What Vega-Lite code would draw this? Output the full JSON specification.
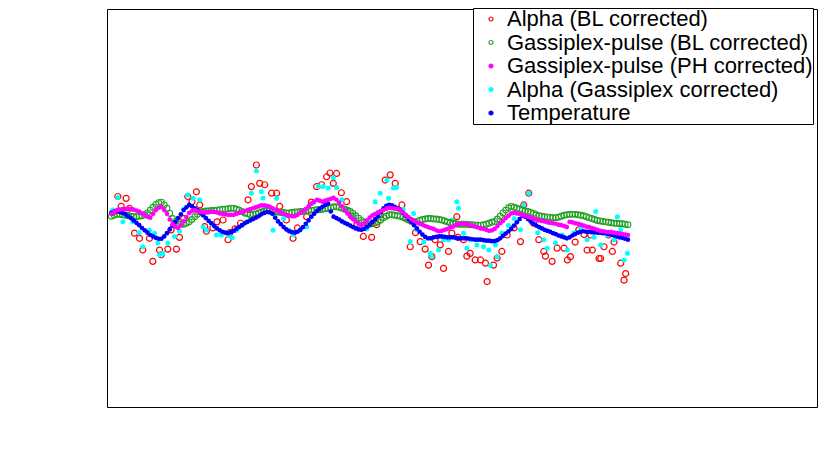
{
"$schema": "https://vega.github.io/schema/vega-lite/v6.json",
"width": 710, "height": 398,
"autosize": {"type": "none"},
"padding": {"left": 107, "top": 9, "right": 13, "bottom": 49},
"background": "white",
"datasets": {
"r": [{"t":0.5,"e":1000.3},{"t":2.3,"e":1003.7},{"t":3.5,"e":1001.6},{"t":5.3,"e":1003.3},{"t":6.5,"e":1001.2},{"t":8.3,"e":995.9},{"t":10.1,"e":994.8},{"t":11.3,"e":992.3},{"t":13.7,"e":994.8},{"t":14.9,"e":989.9},{"t":17.3,"e":992.3},{"t":17.9,"e":991.3},{"t":20.3,"e":992.5},{"t":21.5,"e":996.6},{"t":23.4,"e":992.5},{"t":24.5,"e":995},{"t":26,"e":999},{"t":27.5,"e":1003.7},{"t":29,"e":1002.6},{"t":30.6,"e":1004.7},{"t":31.8,"e":1001.9},{"t":33.6,"e":997.3},{"t":34.2,"e":996.3},{"t":36.5,"e":997},{"t":38,"e":998.3},{"t":40.2,"e":998.7},{"t":42,"e":994.5},{"t":42.6,"e":996},{"t":44.5,"e":996.8},{"t":46.5,"e":998},{"t":49.2,"e":1003},{"t":50.4,"e":1005.8},{"t":52.2,"e":1010.4},{"t":53.4,"e":1006.5},{"t":55.2,"e":1006.2},{"t":57.7,"e":1004.4},{"t":59.5,"e":1004.4},{"t":60.6,"e":1001.6},{"t":63,"e":998.7},{"t":65.4,"e":994.8},{"t":67,"e":997},{"t":70.3,"e":999.4},{"t":72,"e":1002.5},{"t":73.9,"e":1005.8},{"t":75.7,"e":1006.2},{"t":77.5,"e":1007.9},{"t":78.7,"e":1008.7},{"t":79.9,"e":1006.5},{"t":81.1,"e":1008.6},{"t":82.8,"e":1004.5},{"t":84.7,"e":1002.6},{"t":86.5,"e":999.5},{"t":88.4,"e":997.9},{"t":90.7,"e":995.2},{"t":93.7,"e":995},{"t":95.5,"e":997.7},{"t":96.8,"e":999.8},{"t":98.6,"e":1007.2},{"t":100.4,"e":1008.3},{"t":102.2,"e":1006.5},{"t":104.6,"e":1001.9},{"t":106,"e":999},{"t":107.6,"e":993},{"t":109.5,"e":996},{"t":111.2,"e":994.1},{"t":113,"e":992.5},{"t":114.2,"e":989.1},{"t":115.4,"e":990.9},{"t":116.6,"e":994.5},{"t":118.4,"e":993.4},{"t":119.6,"e":988.4},{"t":121.4,"e":992},{"t":122.6,"e":995.9},{"t":124.4,"e":999.4},{"t":124.8,"e":995},{"t":126.8,"e":994.5},{"t":128,"e":991},{"t":129.2,"e":991.6},{"t":131,"e":990.2},{"t":132.9,"e":990.2},{"t":134.7,"e":989.5},{"t":135.3,"e":985.6},{"t":137.6,"e":989.1},{"t":138.9,"e":990.6},{"t":140.6,"e":992},{"t":142.5,"e":995.5},{"t":145,"e":997},{"t":147.3,"e":994.1},{"t":148.5,"e":1001.9},{"t":150.3,"e":1004.4},{"t":152,"e":998},{"t":153.9,"e":994.5},{"t":155.7,"e":992},{"t":156.3,"e":991},{"t":158.7,"e":989.9},{"t":160.5,"e":992.7},{"t":163,"e":992.7},{"t":164.2,"e":990.2},{"t":165.3,"e":990.9},{"t":167,"e":994},{"t":168.3,"e":996.6},{"t":170.2,"e":995.6},{"t":171.3,"e":992.3},{"t":172.6,"e":995.5},{"t":173.2,"e":992.3},{"t":175.6,"e":990.5},{"t":176.2,"e":990.5},{"t":177.4,"e":993},{"t":179,"e":995.5},{"t":180.4,"e":992},{"t":181,"e":994},{"t":182.2,"e":995.5},{"t":183.4,"e":989.5},{"t":184.6,"e":985.9},{"t":185.2,"e":987.3}],
"c": [{"t":0.5,"e":1000.8},{"t":2.3,"e":1003.5},{"t":4.1,"e":998.3},{"t":6,"e":1000},{"t":7.7,"e":998.3},{"t":10,"e":996},{"t":11.3,"e":993},{"t":13.7,"e":996.5},{"t":15.5,"e":995.9},{"t":16.7,"e":993.8},{"t":17.3,"e":991.3},{"t":18.5,"e":991.6},{"t":20.3,"e":993.8},{"t":22.7,"e":995.2},{"t":24.5,"e":996.3},{"t":26,"e":1001},{"t":27.5,"e":1004},{"t":29.4,"e":1003.3},{"t":31.8,"e":1003},{"t":33,"e":997.2},{"t":34.2,"e":996.5},{"t":36,"e":998},{"t":37.8,"e":995.5},{"t":39.6,"e":995.5},{"t":42,"e":995.5},{"t":43.5,"e":994.9},{"t":45,"e":996.5},{"t":47,"e":997.5},{"t":48.6,"e":998.3},{"t":50.4,"e":1004.4},{"t":52.2,"e":1009.1},{"t":54,"e":1004.7},{"t":54.6,"e":1003.4},{"t":56.5,"e":1001.5},{"t":58.2,"e":996.5},{"t":59.5,"e":1003.3},{"t":62,"e":999},{"t":64,"e":996.5},{"t":65.5,"e":995.5},{"t":67.9,"e":996.5},{"t":70.3,"e":997.2},{"t":72.7,"e":1002.3},{"t":74.5,"e":1005.8},{"t":76.3,"e":1005.8},{"t":78.1,"e":1005.5},{"t":79.9,"e":1007.7},{"t":81.1,"e":1005.6},{"t":83,"e":1003},{"t":85,"e":1001},{"t":87.2,"e":999.4},{"t":89.5,"e":997.5},{"t":92,"e":996.8},{"t":95,"e":1002.6},{"t":96.8,"e":1004.4},{"t":99.2,"e":1007.2},{"t":99.8,"e":1003.3},{"t":101.5,"e":1005.5},{"t":102.7,"e":1005.6},{"t":105,"e":1001},{"t":107.6,"e":994.1},{"t":108.8,"e":1000.1},{"t":110,"e":996.6},{"t":112.5,"e":994},{"t":114.8,"e":991.6},{"t":115.4,"e":990.9},{"t":117.8,"e":992.3},{"t":119.6,"e":994.5},{"t":121.4,"e":994.5},{"t":122.6,"e":998.7},{"t":124.4,"e":1002.6},{"t":125,"e":1001.2},{"t":126.8,"e":995.9},{"t":128,"e":992.7},{"t":129.2,"e":994.5},{"t":131.6,"e":993.4},{"t":134,"e":993},{"t":135.9,"e":992.3},{"t":136.5,"e":989},{"t":138.3,"e":993.4},{"t":138.9,"e":990.9},{"t":140.6,"e":995.9},{"t":143,"e":997.5},{"t":145,"e":999},{"t":147.3,"e":996.6},{"t":148.5,"e":1001.9},{"t":150.3,"e":1004.4},{"t":152,"e":998.5},{"t":153.5,"e":996},{"t":155.7,"e":994.5},{"t":156.9,"e":992.7},{"t":159.9,"e":993.8},{"t":162.4,"e":995.5},{"t":164.2,"e":992.3},{"t":166.6,"e":996},{"t":169,"e":997},{"t":171.3,"e":994.5},{"t":173.8,"e":995},{"t":174.4,"e":1000.5},{"t":176.2,"e":993.4},{"t":178.5,"e":995.5},{"t":181,"e":994.5},{"t":182.2,"e":999.4},{"t":183.4,"e":996.6},{"t":184.6,"e":990.2},{"t":185.8,"e":991.6}],
"g": [{"t":0,"e":999.5},{"t":2,"e":999.9},{"t":4,"e":999.8},{"t":6,"e":999.6},{"t":8,"e":999.4},{"t":10,"e":999.5},{"t":12,"e":999.8},{"t":14,"e":1000.8},{"t":16,"e":1002},{"t":18,"e":1002.5},{"t":20,"e":1001.2},{"t":22,"e":999},{"t":24,"e":997.9},{"t":26,"e":997.8},{"t":28,"e":998.3},{"t":30,"e":999.4},{"t":32,"e":1000.4},{"t":34,"e":1000.6},{"t":36,"e":1000.7},{"t":38,"e":1000.8},{"t":40,"e":1001},{"t":42,"e":1001.1},{"t":44,"e":1001.2},{"t":46,"e":1000.8},{"t":48,"e":1000.2},{"t":50,"e":999.8},{"t":52,"e":1000},{"t":54,"e":1000.4},{"t":56,"e":1000.7},{"t":58,"e":1000.6},{"t":60,"e":1000.4},{"t":62,"e":1000.3},{"t":64,"e":1000.2},{"t":66,"e":1000.4},{"t":68,"e":1000.5},{"t":70,"e":1000.6},{"t":72,"e":1000.8},{"t":74,"e":1000.9},{"t":76,"e":1001},{"t":78,"e":1001.2},{"t":80,"e":1001.5},{"t":82,"e":1001.4},{"t":84,"e":1001},{"t":86,"e":1000.5},{"t":88,"e":999.6},{"t":90,"e":998.6},{"t":92,"e":997.9},{"t":94,"e":997.9},{"t":96,"e":998.3},{"t":98,"e":999.2},{"t":100,"e":999.8},{"t":102,"e":999.7},{"t":104,"e":999.5},{"t":106,"e":999},{"t":108,"e":998.4},{"t":110,"e":998.4},{"t":112,"e":998.8},{"t":114,"e":999},{"t":116,"e":998.9},{"t":118,"e":998.8},{"t":120,"e":998.5},{"t":122,"e":998.1},{"t":124,"e":997.9},{"t":126,"e":997.8},{"t":128,"e":997.8},{"t":130,"e":997.7},{"t":132,"e":997.6},{"t":134,"e":997.7},{"t":136,"e":998},{"t":138,"e":998.4},{"t":140,"e":999.5},{"t":142,"e":1000.8},{"t":144,"e":1001.6},{"t":146,"e":1001.2},{"t":148,"e":1000.8},{"t":150,"e":1000.5},{"t":152,"e":1000.1},{"t":154,"e":999.6},{"t":156,"e":999.4},{"t":158,"e":999.3},{"t":160,"e":999.2},{"t":162,"e":999.5},{"t":164,"e":999.8},{"t":166,"e":999.9},{"t":168,"e":999.8},{"t":170,"e":999.6},{"t":172,"e":999.2},{"t":174,"e":998.8},{"t":176,"e":998.5},{"t":178,"e":998.3},{"t":180,"e":998.1},{"t":182,"e":998},{"t":184,"e":997.9},{"t":186,"e":997.7},
{"t":1,"e":999.7},{"t":3,"e":999.9},{"t":5,"e":999.7},{"t":7,"e":999.5},{"t":9,"e":999.4},{"t":11,"e":999.6},{"t":13,"e":1000.2},{"t":15,"e":1001.4},{"t":17,"e":1002.4},{"t":19,"e":1001.9},{"t":21,"e":1000.1},{"t":23,"e":998.4},{"t":25,"e":997.8},{"t":27,"e":998},{"t":29,"e":998.8},{"t":31,"e":999.9},{"t":33,"e":1000.5},{"t":35,"e":1000.6},{"t":37,"e":1000.7},{"t":39,"e":1000.9},{"t":41,"e":1001},{"t":43,"e":1001.2},{"t":45,"e":1001},{"t":47,"e":1000.5},{"t":49,"e":1000},{"t":51,"e":999.9},{"t":53,"e":1000.2},{"t":55,"e":1000.6},{"t":57,"e":1000.7},{"t":59,"e":1000.5},{"t":61,"e":1000.3},{"t":63,"e":1000.2},{"t":65,"e":1000.3},{"t":67,"e":1000.4},{"t":69,"e":1000.5},{"t":71,"e":1000.7},{"t":73,"e":1000.8},{"t":75,"e":1000.9},{"t":77,"e":1001.1},{"t":79,"e":1001.3},{"t":81,"e":1001.5},{"t":83,"e":1001.2},{"t":85,"e":1000.8},{"t":87,"e":1000.1},{"t":89,"e":999.1},{"t":91,"e":998.2},{"t":93,"e":997.8},{"t":95,"e":998.1},{"t":97,"e":998.7},{"t":99,"e":999.5},{"t":101,"e":999.8},{"t":103,"e":999.6},{"t":105,"e":999.3},{"t":107,"e":998.7},{"t":109,"e":998.3},{"t":111,"e":998.6},{"t":113,"e":998.9},{"t":115,"e":999},{"t":117,"e":998.9},{"t":119,"e":998.7},{"t":121,"e":998.3},{"t":123,"e":998},{"t":125,"e":997.8},{"t":127,"e":997.8},{"t":129,"e":997.7},{"t":131,"e":997.6},{"t":133,"e":997.6},{"t":135,"e":997.8},{"t":137,"e":998.2},{"t":139,"e":998.9},{"t":141,"e":1000.2},{"t":143,"e":1001.3},{"t":145,"e":1001.4},{"t":147,"e":1001},{"t":149,"e":1000.6},{"t":151,"e":1000.3},{"t":153,"e":999.8},{"t":155,"e":999.5},{"t":157,"e":999.3},{"t":159,"e":999.2},{"t":161,"e":999.3},{"t":163,"e":999.7},{"t":165,"e":999.9},{"t":167,"e":999.9},{"t":169,"e":999.7},{"t":171,"e":999.4},{"t":173,"e":999},{"t":175,"e":998.6},{"t":177,"e":998.4},{"t":179,"e":998.2},{"t":181,"e":998},{"t":183,"e":997.9},{"t":185,"e":997.8}],
"b": [{"t":0,"e":1000.2},{"t":2,"e":1000.6},{"t":4,"e":1000.2},{"t":6,"e":999.5},{"t":8,"e":998.6},{"t":10,"e":997.6},{"t":12,"e":996.5},{"t":14,"e":995.5},{"t":16,"e":994.9},{"t":18,"e":994.7},{"t":20,"e":995.9},{"t":22,"e":997.5},{"t":24,"e":999.1},{"t":26,"e":1000.8},{"t":28,"e":1001.9},{"t":30,"e":1001.2},{"t":32,"e":1000.3},{"t":34,"e":999.1},{"t":36,"e":998},{"t":38,"e":996.9},{"t":40,"e":996.2},{"t":42,"e":995.9},{"t":44,"e":996.4},{"t":46,"e":997.2},{"t":48,"e":998},{"t":50,"e":998.6},{"t":52,"e":999.2},{"t":54,"e":999.9},{"t":56,"e":1000.4},{"t":58,"e":1000},{"t":60,"e":998.4},{"t":62,"e":997.2},{"t":64,"e":996.3},{"t":66,"e":996},{"t":68,"e":996.6},{"t":70,"e":997.9},{"t":72,"e":999.4},{"t":74,"e":1000.6},{"t":76,"e":1001.5},{"t":78,"e":1002.2},{"t":80,"e":999.4},{"t":82,"e":998.8},{"t":84,"e":998.1},{"t":86,"e":997.5},{"t":88,"e":996.9},{"t":90,"e":996.6},{"t":92,"e":997.2},{"t":94,"e":998.3},{"t":96,"e":999.5},{"t":98,"e":1001.2},{"t":100,"e":1001.9},{"t":102,"e":1001.5},{"t":104,"e":1000.8},{"t":106,"e":999.6},{"t":108,"e":998.3},{"t":110,"e":996.9},{"t":112,"e":995.6},{"t":114,"e":994.8},{"t":116,"e":995},{"t":118,"e":995.2},{"t":120,"e":995.1},{"t":122,"e":995},{"t":124,"e":994.9},{"t":126,"e":994.8},{"t":128,"e":994.8},{"t":130,"e":994.6},{"t":132,"e":994.5},{"t":134,"e":994.4},{"t":136,"e":994.3},{"t":138,"e":994.2},{"t":140,"e":994.8},{"t":142,"e":995.8},{"t":144,"e":996.8},{"t":146,"e":998.2},{"t":148,"e":999.6},{"t":150,"e":998.9},{"t":152,"e":997.9},{"t":154,"e":997.2},{"t":156,"e":996.6},{"t":158,"e":996.2},{"t":160,"e":995.7},{"t":162,"e":995.2},{"t":164,"e":994.8},{"t":166,"e":995.4},{"t":168,"e":996},{"t":170,"e":996.3},{"t":172,"e":996.2},{"t":174,"e":996.1},{"t":176,"e":996},{"t":178,"e":995.9},{"t":180,"e":995.6},{"t":182,"e":995.2},{"t":184,"e":994.9},{"t":186,"e":994.5},
{"t":1,"e":1000.5},{"t":3,"e":1000.4},{"t":5,"e":999.9},{"t":7,"e":999.1},{"t":9,"e":998.1},{"t":11,"e":997},{"t":13,"e":996},{"t":15,"e":995.2},{"t":17,"e":994.7},{"t":19,"e":995.2},{"t":21,"e":996.7},{"t":23,"e":998.3},{"t":25,"e":999.9},{"t":27,"e":1001.4},{"t":29,"e":1001.6},{"t":31,"e":1000.8},{"t":33,"e":999.7},{"t":35,"e":998.5},{"t":37,"e":997.4},{"t":39,"e":996.5},{"t":41,"e":996},{"t":43,"e":996.1},{"t":45,"e":996.8},{"t":47,"e":997.6},{"t":49,"e":998.3},{"t":51,"e":998.9},{"t":53,"e":999.5},{"t":55,"e":1000.2},{"t":57,"e":1000.3},{"t":59,"e":999.2},{"t":61,"e":997.8},{"t":63,"e":996.7},{"t":65,"e":996.1},{"t":67,"e":996.2},{"t":69,"e":997.2},{"t":71,"e":998.6},{"t":73,"e":1000},{"t":75,"e":1001.1},{"t":77,"e":1001.9},{"t":79,"e":1000.5},{"t":81,"e":999.1},{"t":83,"e":998.4},{"t":85,"e":997.8},{"t":87,"e":997.2},{"t":89,"e":996.7},{"t":91,"e":996.8},{"t":93,"e":997.7},{"t":95,"e":998.9},{"t":97,"e":1000.3},{"t":99,"e":1001.7},{"t":101,"e":1001.8},{"t":103,"e":1001.2},{"t":105,"e":1000.2},{"t":107,"e":998.9},{"t":109,"e":997.6},{"t":111,"e":996.2},{"t":113,"e":995.1},{"t":115,"e":994.8},{"t":117,"e":995.1},{"t":119,"e":995.2},{"t":121,"e":995},{"t":123,"e":995},{"t":125,"e":994.8},{"t":127,"e":994.8},{"t":129,"e":994.7},{"t":131,"e":994.5},{"t":133,"e":994.5},{"t":135,"e":994.3},{"t":137,"e":994.2},{"t":139,"e":994.4},{"t":141,"e":995.3},{"t":143,"e":996.3},{"t":145,"e":997.5},{"t":147,"e":998.9},{"t":149,"e":999.4},{"t":151,"e":998.4},{"t":153,"e":997.5},{"t":155,"e":996.9},{"t":157,"e":996.4},{"t":159,"e":995.9},{"t":161,"e":995.4},{"t":163,"e":995},{"t":165,"e":995},{"t":167,"e":995.7},{"t":169,"e":996.2},{"t":171,"e":996.2},{"t":173,"e":996.1},{"t":175,"e":996},{"t":177,"e":995.9},{"t":179,"e":995.7},{"t":181,"e":995.4},{"t":183,"e":995},{"t":185,"e":994.7}],
"m": [{"t":0,"e":1000},{"t":2,"e":1000.8},{"t":4,"e":1001},{"t":6,"e":1001.1},{"t":8,"e":1000.9},{"t":10,"e":1000.5},{"t":12,"e":999.8},{"t":14,"e":999.2},{"t":16,"e":1000.8},{"t":18,"e":1001.5},{"t":20,"e":1000},{"t":22,"e":997.8},{"t":24,"e":997},{"t":26,"e":998.4},{"t":28,"e":1000.2},{"t":30,"e":1000.8},{"t":32,"e":1000.4},{"t":34,"e":1000.3},{"t":36,"e":1000.5},{"t":38,"e":1000.3},{"t":40,"e":1000},{"t":42,"e":999.8},{"t":44,"e":999.8},{"t":46,"e":1000.2},{"t":48,"e":1000.6},{"t":50,"e":1001},{"t":52,"e":1001.4},{"t":54,"e":1001.8},{"t":56,"e":1001.7},{"t":58,"e":1001.2},{"t":60,"e":1000.6},{"t":62,"e":1000},{"t":64,"e":999.6},{"t":66,"e":999.5},{"t":68,"e":1000.2},{"t":70,"e":1001},{"t":72,"e":1002.2},{"t":74,"e":1003},{"t":76,"e":1002.6},{"t":78,"e":1003},{"t":80,"e":1003.4},{"t":82,"e":1002.4},{"t":84,"e":1000.8},{"t":86,"e":999.5},{"t":88,"e":998.4},{"t":90,"e":997.5},{"t":92,"e":998.6},{"t":94,"e":999.7},{"t":96,"e":1000.3},{"t":98,"e":1000.8},{"t":100,"e":1001.3},{"t":102,"e":1001.1},{"t":104,"e":1000.8},{"t":106,"e":999.8},{"t":108,"e":998.9},{"t":110,"e":998.2},{"t":112,"e":997.7},{"t":114,"e":997.2},{"t":116,"e":996.8},{"t":118,"e":996.3},{"t":120,"e":996.6},{"t":122,"e":997.1},{"t":124,"e":997.6},{"t":126,"e":997.9},{"t":128,"e":997.8},{"t":130,"e":997.5},{"t":132,"e":997.1},{"t":134,"e":996.8},{"t":136,"e":996.4},{"t":138,"e":996.8},{"t":140,"e":998},{"t":142,"e":999.1},{"t":144,"e":1000.1},{"t":146,"e":1000.1},{"t":148,"e":999.8},{"t":150,"e":999.4},{"t":152,"e":999},{"t":154,"e":998.6},{"t":156,"e":998.4},{"t":158,"e":998.1},{"t":160,"e":997.9},{"t":162,"e":997.6},{"t":164,"e":997.2},{"t":166,"e":998.2},{"t":168,"e":997.9},{"t":170,"e":997.5},{"t":172,"e":997.2},{"t":174,"e":996.8},{"t":176,"e":996.4},{"t":178,"e":996.2},{"t":180,"e":996.1},{"t":182,"e":995.9},{"t":184,"e":995.7},{"t":186,"e":995.5},
{"t":1,"e":1000.4},{"t":3,"e":1000.9},{"t":5,"e":1001},{"t":7,"e":1001},{"t":9,"e":1000.7},{"t":11,"e":1000.1},{"t":13,"e":999.4},{"t":15,"e":1000},{"t":17,"e":1001.3},{"t":19,"e":1000.8},{"t":21,"e":998.8},{"t":23,"e":997.3},{"t":25,"e":997.6},{"t":27,"e":999.3},{"t":29,"e":1000.6},{"t":31,"e":1000.6},{"t":33,"e":1000.3},{"t":35,"e":1000.4},{"t":37,"e":1000.4},{"t":39,"e":1000.1},{"t":41,"e":999.9},{"t":43,"e":999.8},{"t":45,"e":1000},{"t":47,"e":1000.4},{"t":49,"e":1000.8},{"t":51,"e":1001.2},{"t":53,"e":1001.6},{"t":55,"e":1001.8},{"t":57,"e":1001.5},{"t":59,"e":1000.9},{"t":61,"e":1000.3},{"t":63,"e":999.8},{"t":65,"e":999.5},{"t":67,"e":999.8},{"t":69,"e":1000.6},{"t":71,"e":1001.6},{"t":73,"e":1002.6},{"t":75,"e":1002.8},{"t":77,"e":1002.8},{"t":79,"e":1003.2},{"t":81,"e":1003},{"t":83,"e":1001.6},{"t":85,"e":1000.1},{"t":87,"e":998.9},{"t":89,"e":997.9},{"t":91,"e":998},{"t":93,"e":999.2},{"t":95,"e":1000},{"t":97,"e":1000.6},{"t":99,"e":1001.1},{"t":101,"e":1001.2},{"t":103,"e":1001},{"t":105,"e":1000.3},{"t":107,"e":999.3},{"t":109,"e":998.5},{"t":111,"e":997.9},{"t":113,"e":997.4},{"t":115,"e":997},{"t":117,"e":996.5},{"t":119,"e":996.4},{"t":121,"e":996.8},{"t":123,"e":997.3},{"t":125,"e":997.8},{"t":127,"e":997.9},{"t":129,"e":997.6},{"t":131,"e":997.3},{"t":133,"e":996.9},{"t":135,"e":996.6},{"t":137,"e":996.5},{"t":139,"e":997.4},{"t":141,"e":998.5},{"t":143,"e":999.6},{"t":145,"e":1000.2},{"t":147,"e":1000},{"t":149,"e":999.6},{"t":151,"e":999.2},{"t":153,"e":998.8},{"t":155,"e":998.5},{"t":157,"e":998.2},{"t":159,"e":998},{"t":161,"e":997.7},{"t":163,"e":997.4},{"t":165,"e":998.3},{"t":167,"e":998},{"t":169,"e":997.7},{"t":171,"e":997.3},{"t":173,"e":997},{"t":175,"e":996.6},{"t":177,"e":996.3},{"t":179,"e":996.1},{"t":181,"e":996},{"t":183,"e":995.8},{"t":185,"e":995.6}]
},
"layer": [
{"data": {"name": "r"},
 "mark": {"type": "point", "filled": false, "size": 36, "strokeWidth": 1.2, "opacity": 1},
 "encoding": {
  "x": {"field": "t", "type": "quantitative", "scale": {"domain": [-1.6, 254.1], "nice": false, "zero": false},
        "axis": {"orient": "bottom", "values": [0, 50, 100, 150, 200, 250], "format": "d", "gridOpacity": 0, "tickSize": -11, "tickColor": "#111111", "tickWidth": 1.5, "domainColor": "#000000", "labelPadding": 17, "labelFont": "Liberation Sans", "labelFontSize": 20, "labelColor": "#000000", "title": "Time [hr.]", "titleFont": "Liberation Sans", "titleFontWeight": "normal", "titleColor": "#000000", "titleFontSize": 22, "titleAlign": "right", "titleBaseline": "alphabetic", "titleX": 705, "titleY": 44, "zindex": 2}},
  "y": {"field": "e", "type": "quantitative", "scale": {"domain": [958.9, 1043.6], "nice": false, "zero": false},
        "axis": {"orient": "left", "values": [960, 970, 980, 990, 1000, 1010, 1020, 1030, 1040], "format": "d", "gridOpacity": 0, "tickSize": -21, "tickColor": "#111111", "tickWidth": 1.5, "domainColor": "#000000", "labelPadding": 28, "labelFont": "Liberation Sans", "labelFontSize": 20, "labelColor": "#000000", "title": "Energy [arb unit]", "titleFont": "Liberation Sans", "titleFontWeight": "normal", "titleColor": "#000000", "titleFontSize": 22, "titleAngle": -90, "titleAlign": "right", "titleBaseline": "alphabetic", "titleX": -69, "titleY": 5, "zindex": 2}},
  "stroke": {"datum": "Alpha (BL corrected)", "type": "nominal",
        "scale": {"domain": ["Alpha (BL corrected)", "Gassiplex-pulse (BL corrected)", "Gassiplex-pulse (PH corrected)", "Alpha (Gassiplex corrected)", "Temperature"], "range": ["#ff0000", "#22a022", "#ff00ff", "#00ffff", "#0000ff"]},
        "legend": {"title": null, "encode": {"symbols": {"update": {"size": {"value": 16}}}}}}
 }},
{"data": {"name": "c"},
 "mark": {"type": "point", "filled": true, "size": 25, "opacity": 1},
 "encoding": {
  "x": {"field": "t", "type": "quantitative", "scale": {"domain": [-1.6, 254.1], "nice": false, "zero": false}, "axis": null},
  "y": {"field": "e", "type": "quantitative", "scale": {"domain": [958.9, 1043.6], "nice": false, "zero": false}, "axis": null},
  "fill": {"datum": "Alpha (Gassiplex corrected)", "type": "nominal",
        "scale": {"domain": ["Alpha (BL corrected)", "Gassiplex-pulse (BL corrected)", "Gassiplex-pulse (PH corrected)", "Alpha (Gassiplex corrected)", "Temperature"], "range": ["white", "white", "#ff00ff", "#00ffff", "#0000ff"]},
        "legend": {"title": null, "encode": {"symbols": {"update": {"size": {"value": 16}}}}}}
 }},
{"data": {"name": "g"},
 "mark": {"type": "point", "filled": false, "size": 34, "strokeWidth": 1.1, "opacity": 1},
 "encoding": {
  "x": {"field": "t", "type": "quantitative", "scale": {"domain": [-1.6, 254.1], "nice": false, "zero": false}, "axis": null},
  "y": {"field": "e", "type": "quantitative", "scale": {"domain": [958.9, 1043.6], "nice": false, "zero": false}, "axis": null},
  "stroke": {"datum": "Gassiplex-pulse (BL corrected)", "type": "nominal"}
 }},
{"data": {"name": "b"},
 "mark": {"type": "point", "filled": true, "size": 22, "opacity": 1},
 "encoding": {
  "x": {"field": "t", "type": "quantitative", "scale": {"domain": [-1.6, 254.1], "nice": false, "zero": false}, "axis": null},
  "y": {"field": "e", "type": "quantitative", "scale": {"domain": [958.9, 1043.6], "nice": false, "zero": false}, "axis": null},
  "fill": {"datum": "Temperature", "type": "nominal"}
 }},
{"data": {"name": "m"},
 "mark": {"type": "point", "filled": true, "size": 22, "opacity": 1},
 "encoding": {
  "x": {"field": "t", "type": "quantitative", "scale": {"domain": [-1.6, 254.1], "nice": false, "zero": false}, "axis": null},
  "y": {"field": "e", "type": "quantitative", "scale": {"domain": [958.9, 1043.6], "nice": false, "zero": false}, "axis": null},
  "fill": {"datum": "Gassiplex-pulse (PH corrected)", "type": "nominal"}
 }}
],
"config": {
 "font": "Liberation Sans",
 "view": {"stroke": "#000000", "strokeWidth": 1},
 "legend": {"orient": "none", "legendX": 366, "legendY": -1, "padding": 0, "strokeColor": "#000000", "fillColor": "#ffffff", "labelFont": "Liberation Sans", "labelFontSize": 22, "labelColor": "#000000", "labelLimit": 400, "symbolType": "circle", "symbolSize": 16, "symbolStrokeWidth": 1.2, "symbolOffset": 7, "labelOffset": 5, "rowPadding": 1.5}
}
}
